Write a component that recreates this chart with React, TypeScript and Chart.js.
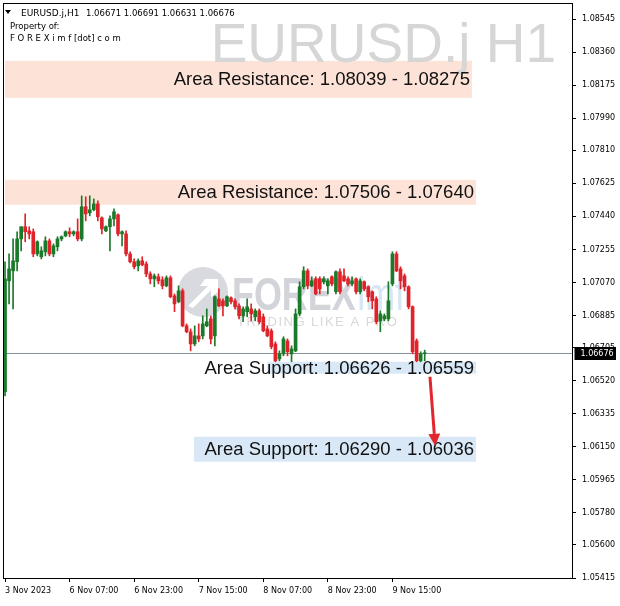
import React, { useEffect, useRef } from 'react';
import { Chart, registerables } from 'chart.js';
Chart.register(...registerables);

const symbolTitle = 'EURUSD.j,H1';
const headerOHLC = '1.06671 1.06691 1.06631 1.06676';
const headerLine2 = 'Property of:';
const headerLine3 = 'F O R E X i m f [dot] c o m';
const watermarkText = 'EURUSD.j H1';

const opens = [
  1.06458, 1.07079, 1.07135, 1.07186, 1.07314, 1.07382, 1.07359, 1.07354, 1.07230, 1.07214,
  1.07242, 1.07303, 1.07230, 1.07270, 1.07314, 1.07331, 1.07354, 1.07342, 1.07354, 1.07314,
  1.07494, 1.07460, 1.07477, 1.07510, 1.07432, 1.07359, 1.07382, 1.07426, 1.07449, 1.07342,
  1.07342, 1.07230, 1.07186, 1.07163, 1.07191, 1.07174, 1.07118, 1.07090, 1.07102, 1.07085,
  1.07051, 1.07096, 1.06995, 1.06962, 1.07023, 1.06827, 1.06794, 1.06726, 1.06771, 1.06771,
  1.06827, 1.06866, 1.06771, 1.06978, 1.06967, 1.06939, 1.06984, 1.06967, 1.06939, 1.06883,
  1.06906, 1.06922, 1.06878, 1.06911, 1.06878, 1.06810, 1.06799, 1.06726, 1.06642, 1.06670,
  1.06743, 1.06670, 1.06687, 1.06894, 1.07046, 1.07135, 1.07051, 1.07090, 1.07090, 1.07074,
  1.07051, 1.07102, 1.07018, 1.07130, 1.07107, 1.07090, 1.07062, 1.07090, 1.07018, 1.07074,
  1.07046, 1.07018, 1.06978, 1.06855, 1.06866, 1.06866, 1.07062, 1.07230, 1.07146, 1.07107,
  1.07046, 1.06934, 1.06743, 1.06631, 1.06671,
];
const highs = [
  1.07186, 1.07230, 1.07314, 1.07354, 1.07382, 1.07454, 1.07382, 1.07370, 1.07303, 1.07270,
  1.07326, 1.07314, 1.07286, 1.07326, 1.07331, 1.07359, 1.07376, 1.07359, 1.07426, 1.07555,
  1.07550, 1.07555, 1.07538, 1.07527, 1.07438, 1.07387, 1.07443, 1.07482, 1.07454, 1.07359,
  1.07359, 1.07242, 1.07202, 1.07202, 1.07214, 1.07186, 1.07130, 1.07118, 1.07118, 1.07102,
  1.07107, 1.07107, 1.07006, 1.07051, 1.07034, 1.06838, 1.06810, 1.06827, 1.06838, 1.06883,
  1.06922, 1.06883, 1.06995, 1.07034, 1.06978, 1.06995, 1.06990, 1.06978, 1.06950, 1.06934,
  1.06978, 1.06950, 1.06922, 1.06922, 1.06894, 1.06827, 1.06810, 1.06738, 1.06687, 1.06766,
  1.06754, 1.06715, 1.06922, 1.07074, 1.07158, 1.07146, 1.07102, 1.07102, 1.07102, 1.07102,
  1.07090, 1.07107, 1.07135, 1.07146, 1.07146, 1.07102, 1.07102, 1.07096, 1.07090, 1.07079,
  1.07051, 1.07023, 1.06990, 1.06911, 1.06894, 1.07074, 1.07242, 1.07242, 1.07158, 1.07118,
  1.07051, 1.06939, 1.06754, 1.06682, 1.06691,
];
const lows = [
  1.06435, 1.06950, 1.06922, 1.07135, 1.07247, 1.07298, 1.07314, 1.07214, 1.07219, 1.07202,
  1.07219, 1.07219, 1.07214, 1.07247, 1.07303, 1.07326, 1.07326, 1.07331, 1.07303, 1.07303,
  1.07415, 1.07443, 1.07471, 1.07415, 1.07342, 1.07354, 1.07247, 1.07387, 1.07331, 1.07275,
  1.07219, 1.07180, 1.07146, 1.07135, 1.07163, 1.07102, 1.07062, 1.07046, 1.07062, 1.07034,
  1.07046, 1.06984, 1.06906, 1.06956, 1.06822, 1.06788, 1.06687, 1.06715, 1.06738, 1.06754,
  1.06822, 1.06726, 1.06715, 1.06934, 1.06883, 1.06934, 1.06950, 1.06922, 1.06866, 1.06850,
  1.06878, 1.06855, 1.06855, 1.06838, 1.06794, 1.06766, 1.06698, 1.06626, 1.06631, 1.06659,
  1.06659, 1.06626, 1.06682, 1.06883, 1.07034, 1.07034, 1.07046, 1.07001, 1.07006, 1.07062,
  1.07006, 1.07051, 1.07006, 1.07006, 1.07074, 1.07051, 1.07051, 1.07006, 1.07006, 1.07023,
  1.06962, 1.06922, 1.06838, 1.06794, 1.06855, 1.06855, 1.07051, 1.07130, 1.07034, 1.07023,
  1.06922, 1.06670, 1.06626, 1.06626, 1.06631,
];
const closes = [
  1.07090, 1.07146, 1.07191, 1.07314, 1.07382, 1.07354, 1.07342, 1.07230, 1.07298, 1.07247,
  1.07303, 1.07230, 1.07275, 1.07314, 1.07326, 1.07354, 1.07342, 1.07354, 1.07314, 1.07494,
  1.07454, 1.07477, 1.07510, 1.07438, 1.07370, 1.07382, 1.07426, 1.07466, 1.07342, 1.07354,
  1.07230, 1.07186, 1.07158, 1.07191, 1.07169, 1.07118, 1.07090, 1.07107, 1.07079, 1.07051,
  1.07096, 1.06990, 1.06950, 1.07023, 1.06827, 1.06794, 1.06726, 1.06771, 1.06754, 1.06838,
  1.06850, 1.06754, 1.06990, 1.06939, 1.06939, 1.06990, 1.06962, 1.06934, 1.06883, 1.06922,
  1.06934, 1.06894, 1.06911, 1.06850, 1.06799, 1.06771, 1.06710, 1.06631, 1.06670, 1.06754,
  1.06682, 1.06698, 1.06894, 1.07046, 1.07135, 1.07051, 1.07079, 1.07006, 1.07034, 1.07090,
  1.07079, 1.07062, 1.07130, 1.07018, 1.07079, 1.07062, 1.07079, 1.07018, 1.07079, 1.07034,
  1.06990, 1.06967, 1.06850, 1.06894, 1.06883, 1.06967, 1.07230, 1.07135, 1.07079, 1.07046,
  1.06934, 1.06682, 1.06631, 1.06670, 1.06676,
];

const slotCount = 141;
const categories = Array.from({ length: slotCount }, (_, i) => i);
const xTickIndex = [0, 16, 32, 48, 64, 80, 96];
const xTickLabels = ['3 Nov 2023', '6 Nov 07:00', '6 Nov 23:00', '7 Nov 15:00', '8 Nov 07:00', '8 Nov 23:00', '9 Nov 15:00'];
const yTickValues = [
  1.08545, 1.0836, 1.08175, 1.0799, 1.0781, 1.07625, 1.0744, 1.07255, 1.0707,
  1.06885, 1.06705, 1.0652, 1.06335, 1.0615, 1.05965, 1.0578, 1.056, 1.05415,
];
const yMin = 1.05415;
const yMax = 1.08635;
const currentPrice = 1.06676;

const zoneLabels = [
  'Area Resistance: 1.08039 - 1.08275',
  'Area Resistance: 1.07506 - 1.07640',
  'Area Support: 1.06626 - 1.06559',
  'Area Support: 1.06290 - 1.06036',
];
const zoneTop = [1.08311, 1.07645, 1.06626, 1.06206];
const zoneBottom = [1.08104, 1.07505, 1.06559, 1.06066];
const zoneStart = [0, 0, 65, 46.8];
const zoneEnd = [115.7, 116.7, 116.7, 116.7];
const zoneKind = ['res', 'res', 'sup', 'sup'];

const arrowFrom = [105.3, 1.06542];
const arrowTo = [106.6, 1.06155];

const BULL = '#1a7a2a';
const BEAR = '#e0232a';
const SMALL_FONT = '8px "DejaVu Sans"';

const overlay = {
  id: 'overlay',
  beforeDraw(chart: any) {
    const { ctx, chartArea: a, scales } = chart;
    const x = scales.x, y = scales.y;
    ctx.save();
    ctx.fillStyle = '#ffffff';
    ctx.fillRect(0, 0, chart.width, chart.height);
    zoneTop.forEach((t, i) => {
      const x1 = x.getPixelForValue(zoneStart[i]);
      const x2 = x.getPixelForValue(zoneEnd[i]);
      const y1 = y.getPixelForValue(t);
      const y2 = y.getPixelForValue(zoneBottom[i]);
      ctx.fillStyle = zoneKind[i] === 'res' ? '#fde3d7' : '#d8e8f6';
      ctx.fillRect(x1, y1, x2 - x1, y2 - y1);
    });
    ctx.fillStyle = '#d6d6d6';
    ctx.font = '55px "Liberation Sans"';
    ctx.textAlign = 'right';
    ctx.textBaseline = 'alphabetic';
    ctx.fillText(watermarkText, 556, 62);
    // logo watermark
    ctx.fillStyle = '#d9dadf';
    ctx.beginPath();
    ctx.arc(203, 292, 25, 0, Math.PI * 2);
    ctx.fill();
    ctx.fillStyle = '#ffffff';
    ctx.beginPath();
    ctx.moveTo(188, 306);
    ctx.lineTo(208, 286);
    ctx.lineTo(200, 286);
    ctx.lineTo(205, 279);
    ctx.lineTo(218, 279);
    ctx.lineTo(218, 292);
    ctx.lineTo(211, 297);
    ctx.lineTo(211, 290);
    ctx.lineTo(193, 308);
    ctx.closePath();
    ctx.fill();
    ctx.save();
    ctx.translate(232, 310);
    ctx.scale(0.78, 1);
    ctx.textAlign = 'left';
    ctx.font = 'bold 46px "Liberation Sans"';
    ctx.fillStyle = '#d3d4da';
    ctx.fillText('FOREX', 0, 0);
    const w = ctx.measureText('FOREX').width;
    ctx.font = '46px "Liberation Sans"';
    ctx.fillStyle = '#d6e6f3';
    ctx.fillText('imf', w + 2, 0);
    ctx.restore();
    ctx.fillStyle = '#d8d8d8';
    ctx.font = '13px "Liberation Sans"';
    (ctx as any).letterSpacing = '1.5px';
    ctx.textAlign = 'left';
    ctx.fillText('TRADING LIKE A PRO', 237, 326);
    (ctx as any).letterSpacing = '0px';
    const py = Math.round(y.getPixelForValue(currentPrice)) + 0.5;
    ctx.strokeStyle = '#8494a2';
    ctx.lineWidth = 1;
    ctx.beginPath();
    ctx.moveTo(a.left, py);
    ctx.lineTo(a.right, py);
    ctx.stroke();
    ctx.restore();
  },
  afterDatasetsDraw(chart: any) {
    const { ctx, scales } = chart;
    const x = scales.x, y = scales.y;
    ctx.save();
    ctx.fillStyle = '#111111';
    ctx.font = '18.5px "Liberation Sans"';
    ctx.textAlign = 'right';
    ctx.textBaseline = 'middle';
    zoneLabels.forEach((lab, i) => {
      const x2 = x.getPixelForValue(zoneEnd[i]);
      const yc = (y.getPixelForValue(zoneTop[i]) + y.getPixelForValue(zoneBottom[i])) / 2;
      ctx.fillText(lab, x2 - 2, yc + 1);
    });
    const ax1 = x.getPixelForValue(arrowFrom[0]);
    const ay1 = y.getPixelForValue(arrowFrom[1]);
    const ax2 = x.getPixelForValue(arrowTo[0]);
    const ay2 = y.getPixelForValue(arrowTo[1]);
    const ang = Math.atan2(ay2 - ay1, ax2 - ax1);
    const headLen = 12, headW = 6;
    const bx = ax2 - headLen * Math.cos(ang), by = ay2 - headLen * Math.sin(ang);
    ctx.strokeStyle = '#e3262d';
    ctx.fillStyle = '#e3262d';
    ctx.lineWidth = 3;
    ctx.beginPath();
    ctx.moveTo(ax1, ay1);
    ctx.lineTo(bx, by);
    ctx.stroke();
    ctx.beginPath();
    ctx.moveTo(ax2, ay2);
    ctx.lineTo(bx + headW * Math.sin(ang), by - headW * Math.cos(ang));
    ctx.lineTo(bx - headW * Math.sin(ang), by + headW * Math.cos(ang));
    ctx.closePath();
    ctx.fill();
    ctx.restore();
  },
  afterDraw(chart: any) {
    const { ctx, chartArea: a, scales } = chart;
    const y = scales.y;
    ctx.save();
    ctx.strokeStyle = '#000000';
    ctx.lineWidth = 1;
    const l = Math.floor(a.left) + 0.5, t = Math.floor(a.top) + 0.5;
    const r = Math.round(a.right) + 0.5, b = Math.round(a.bottom) + 0.5;
    ctx.strokeRect(l, t, r - l, b - t);
    const py = Math.round(y.getPixelForValue(currentPrice));
    ctx.fillStyle = '#000000';
    ctx.fillRect(r + 2, py - 6, 616 - (r + 2), 13);
    ctx.fillStyle = '#ffffff';
    ctx.font = SMALL_FONT;
    ctx.textAlign = 'left';
    ctx.textBaseline = 'middle';
    ctx.fillText(currentPrice.toFixed(5), r + 8, py + 1);
    ctx.fillStyle = '#000000';
    ctx.beginPath();
    ctx.moveTo(5, 10);
    ctx.lineTo(11, 10);
    ctx.lineTo(8, 14);
    ctx.closePath();
    ctx.fill();
    ctx.font = '9px "DejaVu Sans"';
    ctx.textBaseline = 'alphabetic';
    ctx.fillText(symbolTitle, 21, 16);
    ctx.font = '8.5px "DejaVu Sans"';
    ctx.fillText(headerOHLC, 86, 16);
    ctx.fillText(headerLine2, 10, 29);
    ctx.fillText(headerLine3, 10, 41);
    ctx.restore();
  },
};

export default function App() {
  const ref = useRef<HTMLCanvasElement>(null);
  useEffect(() => {
    const canvas = ref.current!;
    const colors = opens.map((o, i) => (closes[i] >= o ? BULL : BEAR));
    const chart = new Chart(canvas, {
      type: 'bar',
      data: {
        labels: categories,
        datasets: [
          {
            data: lows.map((l, i) => [l, highs[i]]),
            backgroundColor: colors,
            borderWidth: 0,
            barThickness: 1,
            grouped: false,
            order: 2,
          } as any,
          {
            data: opens.map((o, i) => [o, closes[i]]),
            backgroundColor: colors,
            borderWidth: 0,
            barThickness: 3,
            minBarLength: 1,
            grouped: false,
            order: 1,
          } as any,
        ],
      },
      options: {
        animation: false,
        responsive: false,
        devicePixelRatio: 1,
        layout: { padding: { left: 3, top: 3, right: 0, bottom: 0 } },
        plugins: { legend: { display: false }, tooltip: { enabled: false } },
        scales: {
          x: {
            type: 'category',
            offset: true,
            border: { display: false },
            grid: { offset: false, drawOnChartArea: false, drawTicks: true, tickLength: 4, color: '#000000' },
            ticks: {
              autoSkip: false,
              maxRotation: 0,
              align: 'start',
              padding: 4,
              color: '#000000',
              font: { family: 'DejaVu Sans', size: 8 },
              callback: (v: any) => {
                const k = xTickIndex.indexOf(Number(v));
                return k >= 0 ? xTickLabels[k] : '';
              },
            },
            afterBuildTicks: (s: any) => {
              s.ticks = xTickIndex.map((v) => ({ value: v }));
            },
            afterFit: (s: any) => {
              s.height = 28;
              s.paddingLeft = 0;
              s.paddingRight = 0;
            },
          },
          y: {
            type: 'linear',
            position: 'right',
            min: yMin,
            max: yMax,
            border: { display: false },
            grid: { drawOnChartArea: false, drawTicks: true, tickLength: 4, color: '#000000' },
            ticks: {
              autoSkip: false,
              padding: 6,
              color: '#000000',
              font: { family: 'DejaVu Sans', size: 8 },
              callback: (v: any) => Number(v).toFixed(5),
            },
            afterBuildTicks: (s: any) => {
              s.ticks = yTickValues.map((v) => ({ value: v }));
            },
            afterFit: (s: any) => {
              s.width = 48;
              s.paddingTop = 0;
              s.paddingBottom = 0;
            },
          },
        },
      } as any,
      plugins: [overlay],
    });
    return () => chart.destroy();
  }, []);
  return (
    <div style={{ position: 'fixed', left: 0, top: 0, width: 620, height: 606, background: '#fff' }}>
      <canvas ref={ref} width={620} height={606} style={{ display: 'block' }} />
    </div>
  );
}
